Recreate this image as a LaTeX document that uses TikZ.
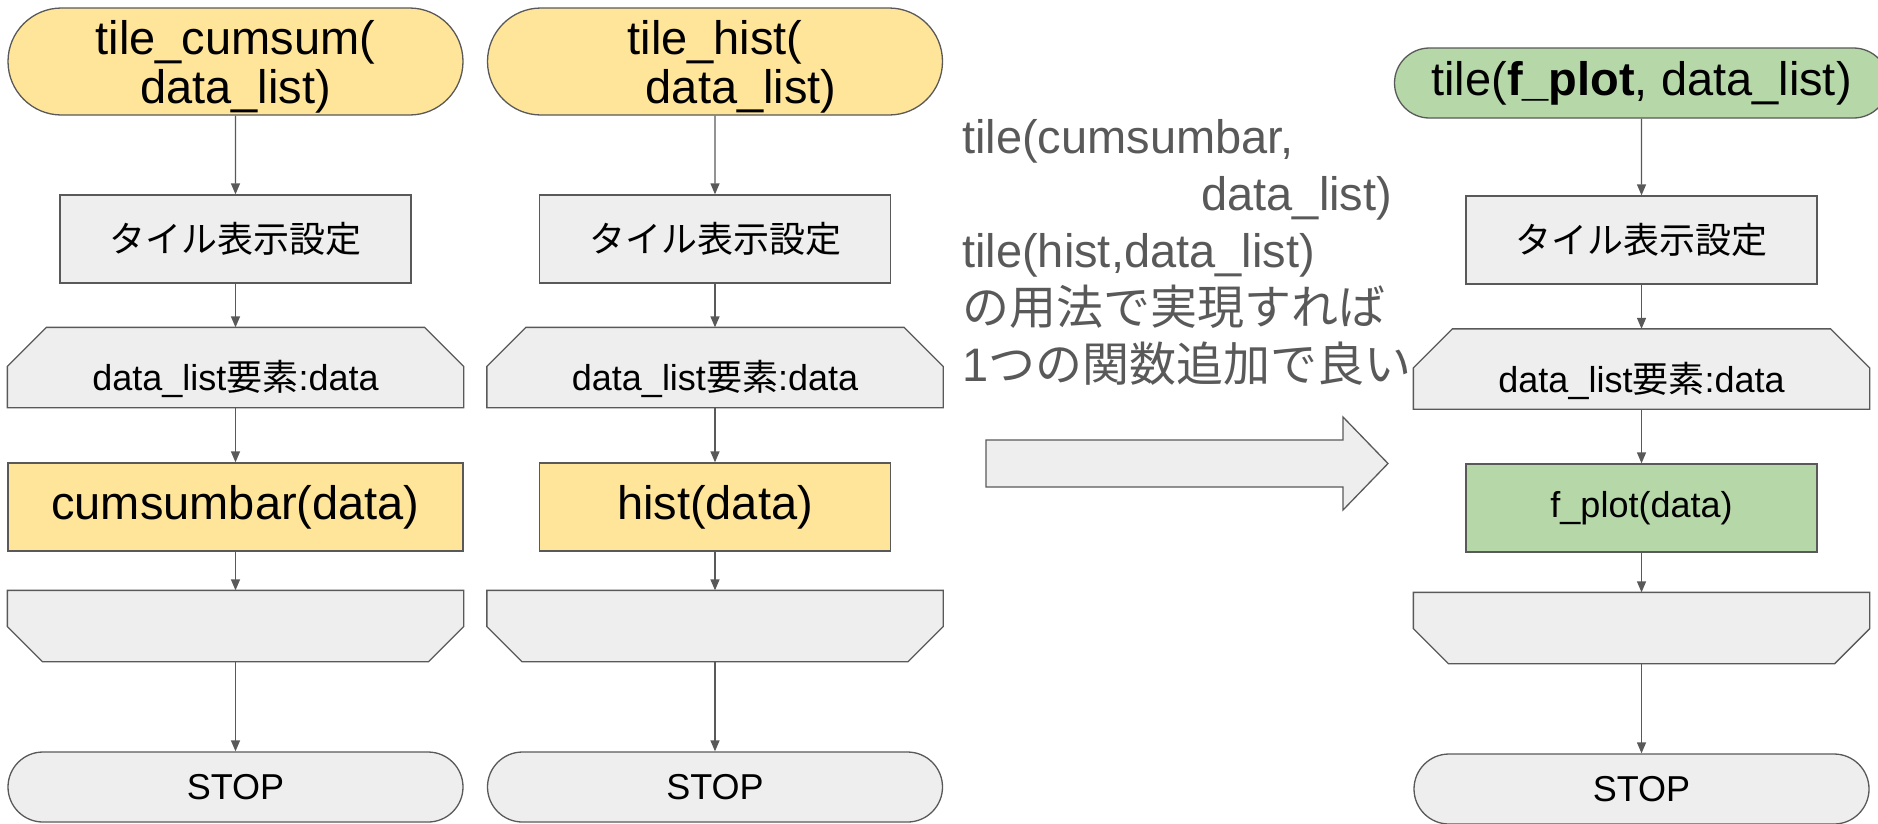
\documentclass[tikz,border=0pt]{standalone}
\usepackage{fontspec}
\setmainfont{Liberation Sans}
\newfontfamily\jp{Noto Sans CJK JP}
\usetikzlibrary{arrows.meta,shapes.misc,backgrounds}
\definecolor{startyellow}{HTML}{FFE599}
\definecolor{plotgreen}{HTML}{B6D7A8}
\definecolor{boxgray}{HTML}{EEEEEE}
\definecolor{linegray}{HTML}{595959}
\newcommand{\largetext}{\fontsize{47}{49}\selectfont}
\newcommand{\notetext}{\fontsize{47}{57}\selectfont}
\newcommand{\smalltext}{\fontsize{36}{43}\selectfont}
\newcommand{\looptext}[1]{\raisebox{-23pt}[0pt][0pt]{#1}}
\newcommand{\drawloopstart}[1]{\draw[loopline] ([yshift=-39pt]#1.north west)--([xshift=39pt]#1.north west)--([xshift=-39pt]#1.north east)--([yshift=-39pt]#1.north east)--(#1.south east)--(#1.south west)--cycle;}
\newcommand{\drawloopend}[1]{\draw[loopline] (#1.north west)--(#1.north east)--([yshift=35pt]#1.south east)--([xshift=-35pt]#1.south east)--([xshift=35pt]#1.south west)--([yshift=35pt]#1.south west)--cycle;}
\tikzset{
  terminal/.style={rounded rectangle, draw=linegray, line width=1.3pt, fill=boxgray,
    minimum width=455pt, minimum height=70pt, inner sep=0pt, font=\smalltext},
  startnode/.style={terminal, fill=startyellow, font=\largetext, align=center},
  process/.style={rectangle, draw=linegray, line width=1.3pt, fill=boxgray,
    minimum width=351pt, minimum height=88pt, inner sep=0pt, font=\smalltext},
  loopnode/.style={rectangle, line width=1.3pt, minimum width=455pt, inner sep=0pt, font=\smalltext},
  loopline/.style={draw=linegray, fill=boxgray, line width=1.3pt},
  flow/.style={draw=linegray, line width=1.3pt, -{Triangle[width=9pt,length=11pt]}},
  bigarrow/.style={draw=linegray, fill=boxgray, line width=1.3pt},
  note/.style={text width=430pt, align=left, inner sep=0pt, text=linegray, font=\notetext}
}
\begin{document}
\begin{tikzpicture}[x=1pt,y=-1pt]
\useasboundingbox (0,0) rectangle (1878,823);
% tile_cumsum
\node[startnode, minimum height=107pt, text depth=0pt] (starta) at (235.5,61.5) {tile\_cumsum(\\data\_list)};
\node[process] (setupa) at (235.5,239) {\jp タイル表示設定};
\node[loopnode, minimum height=79pt] (loopa) at (235.5,367.5) {\looptext{data\_list{\jp 要素}:data}};
\node[process, fill=startyellow, minimum width=455pt, font=\largetext] (plota) at (235.5,507) {cumsumbar(data)};
\node[loopnode, minimum height=70pt] (enda) at (235.5,626) {};
\node[terminal] (stopa) at (235.5,787) {STOP};
% tile_hist
\node[startnode, minimum height=107pt, text depth=0pt] (startb) at (715,61.5) {tile\_hist(\\~~~~data\_list)};
\node[process] (setupb) at (715,239) {\jp タイル表示設定};
\node[loopnode, minimum height=79pt] (loopb) at (715,367.5) {\looptext{data\_list{\jp 要素}:data}};
\node[process, fill=startyellow, font=\largetext] (plotb) at (715,507) {hist(data)};
\node[loopnode, minimum height=70pt] (endb) at (715,626) {};
\node[terminal] (stopb) at (715,787) {STOP};
% tile(f_plot, data_list)
\node[startnode, fill=plotgreen, minimum width=494pt] (startc) at (1641.5,83) {tile(\textbf{f\_plot}, data\_list)};
\node[process] (setupc) at (1641.5,240) {\jp タイル表示設定};
\node[loopnode, minimum height=79pt] (loopc) at (1641.5,369) {\looptext{data\_list{\jp 要素}:data}};
\node[process, fill=plotgreen] (plotc) at (1641.5,508) {f\_plot(data)};
\node[loopnode, minimum height=70pt] (endc) at (1641.5,628) {};
\node[terminal] (stopc) at (1641.5,789) {STOP};
\begin{scope}[on background layer]
\foreach \c in {a,b,c}{\drawloopstart{loop\c}\drawloopend{end\c}}
\end{scope}
\foreach \c in {a,b,c}{
  \draw[flow] (start\c) -- (setup\c);
  \draw[flow] (setup\c) -- (loop\c);
  \draw[flow] (loop\c) -- (plot\c);
  \draw[flow] (plot\c) -- (end\c);
  \draw[flow] (end\c) -- (stop\c);
}
\node[note, anchor=north west] (usage) at (962,119) {tile(cumsumbar,\\\hspace*{\fill}data\_list)\\tile(hist,data\_list)\\{\jp の用法で実現すれば}\\1{\jp つの関数追加で良い}};
\draw[bigarrow] (986,440) -- (1343,440) -- (1343,417) -- (1388,463.5) -- (1343,510) -- (1343,487) -- (986,487) -- cycle;
\end{tikzpicture}
\end{document}
